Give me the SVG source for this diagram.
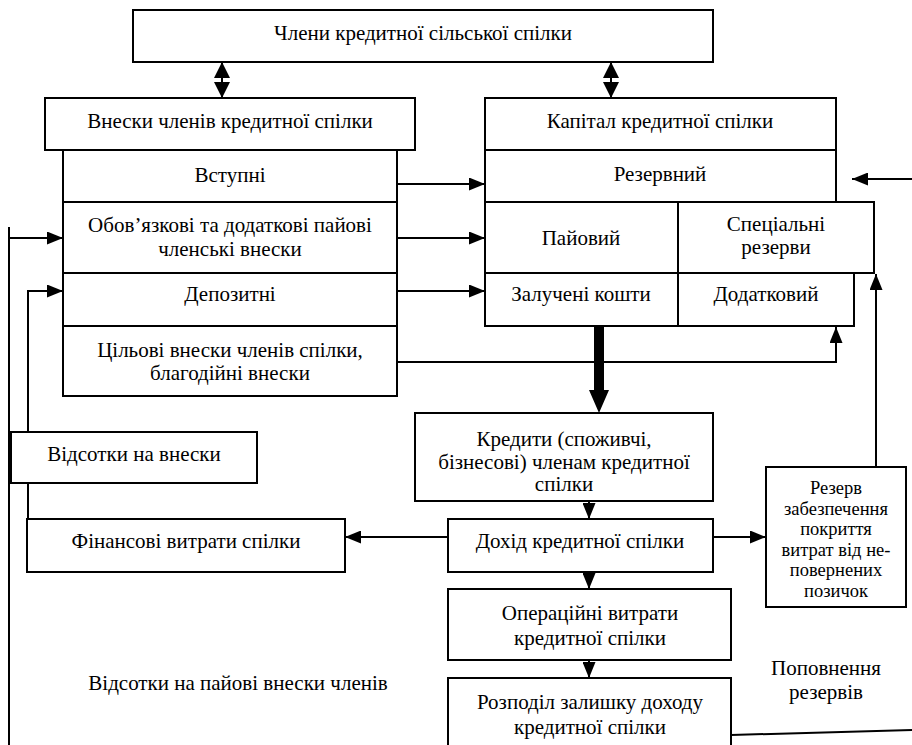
<svg xmlns="http://www.w3.org/2000/svg" width="912" height="745" viewBox="0 0 912 745">
<style>
.b{fill:#fff;stroke:#000;stroke-width:2}
.t{font-family:"Liberation Serif","Times New Roman",serif;font-size:21px;fill:#000;text-anchor:middle}
.s{font-size:18.5px}
.l{fill:none;stroke:#000;stroke-width:2}
.h{fill:#000}
</style>
<defs>
<marker id="a" viewBox="0 0 16 13" refX="16" refY="6.5" markerWidth="16" markerHeight="13" markerUnits="userSpaceOnUse" orient="auto"><path d="M0,0L16,6.5L0,13Z" fill="#000"/></marker>
</defs>
<rect width="912" height="745" fill="#fff"/>

<g id="n-members"><rect class="b" x="133" y="10" width="580" height="52"/><text class="t" x="423" y="40">Члени кредитної сільської спілки</text></g>

<g id="n-contrib"><rect class="b" x="45" y="98" width="370" height="52"/><text class="t" x="230" y="128">Внески членів кредитної спілки</text></g>
<g id="n-entry"><rect class="b" x="63" y="150" width="334" height="52"/><text class="t" x="230" y="182">Вступні</text></g>
<g id="n-share"><rect class="b" x="63" y="202" width="334" height="71"/><text class="t" x="230" y="232">Обов’язкові та додаткові пайові</text><text class="t" x="230" y="256">членські внески</text></g>
<g id="n-deposit"><rect class="b" x="63" y="273" width="334" height="53"/><text class="t" x="230" y="301">Депозитні</text></g>
<g id="n-target"><rect class="b" x="63" y="326" width="334" height="70"/><text class="t" x="230" y="357">Цільові внески членів спілки,</text><text class="t" x="230" y="380">благодійні  внески</text></g>

<g id="n-capital"><rect class="b" x="485" y="98" width="351" height="52"/><text class="t" x="660" y="128">Капітал кредитної спілки</text></g>
<g id="n-reserve"><rect class="b" x="485" y="150" width="351" height="52"/><text class="t" x="660" y="181">Резервний</text></g>
<g id="n-paid"><rect class="b" x="485" y="202" width="193" height="71"/><text class="t" x="581" y="245">Пайовий</text></g>
<g id="n-special"><rect class="b" x="678" y="202" width="196" height="71"/><text class="t" x="776" y="231">Спеціальні</text><text class="t" x="776" y="254">резерви</text></g>
<g id="n-borrowed"><rect class="b" x="485" y="273" width="193" height="53"/><text class="t" x="581" y="301">Залучені кошти</text></g>
<g id="n-additional"><rect class="b" x="678" y="273" width="176" height="53"/><text class="t" x="766" y="301">Додатковий</text></g>

<g id="n-interest"><rect class="b" x="11" y="432" width="246" height="51"/><text class="t" x="134" y="461">Відсотки на внески</text></g>
<g id="n-loans"><rect class="b" x="415" y="413" width="298" height="88"/><text class="t" x="564" y="446">Кредити (споживчі,</text><text class="t" x="564" y="469">бізнесові) членам кредитної</text><text class="t" x="564" y="491">спілки</text></g>
<g id="n-finexp"><rect class="b" x="27" y="519" width="318" height="53"/><text class="t" x="186" y="548">Фінансові витрати спілки</text></g>
<g id="n-income"><rect class="b" x="448" y="519" width="265" height="53"/><text class="t" x="580" y="548">Дохід кредитної спілки</text></g>
<g id="n-provision"><rect class="b" x="766" y="467" width="140" height="140"/>
<text class="t s" x="836" y="494">Резерв</text><text class="t s" x="836" y="515">забезпечення</text><text class="t s" x="836" y="535">покриття</text><text class="t s" x="836" y="556">витрат від не-</text><text class="t s" x="836" y="576">повернених</text><text class="t s" x="836" y="597">позичок</text></g>
<g id="n-opex"><rect class="b" x="448" y="589" width="283" height="71"/><text class="t" x="590" y="620">Операційні витрати</text><text class="t" x="590" y="645">кредитної спілки</text></g>
<g id="n-distrib"><rect class="b" x="448" y="678" width="283" height="80"/><text class="t" x="590" y="709">Розподіл залишку доходу</text><text class="t" x="590" y="734">кредитної спілки</text></g>

<g id="labels">
<text class="t" x="238" y="690">Відсотки на пайові внески членів</text>
<text class="t" x="826" y="675">Поповнення</text>
<text class="t" x="826" y="699">резервів</text>
</g>

<g id="connectors">
<line class="l" x1="222" y1="62" x2="222" y2="97"/>
<path class="h" d="M222,62L230,78L214,78Z M222,98L230,82L214,82Z"/>
<line class="l" x1="611" y1="62" x2="611" y2="97"/>
<path class="h" d="M611,62L619,78L603,78Z M611,98L619,82L603,82Z"/>
<line class="l" x1="397" y1="184" x2="485" y2="184" marker-end="url(#a)"/>
<line class="l" x1="397" y1="238" x2="485" y2="238" marker-end="url(#a)"/>
<line class="l" x1="397" y1="291" x2="485" y2="291" marker-end="url(#a)"/>
<polyline class="l" points="397,362 836,362 836,327" marker-end="url(#a)"/>
<path class="h" d="M594,326H604V390H609L599,413L589,390H594Z"/>
<line class="l" x1="912" y1="179" x2="852" y2="179" marker-end="url(#a)"/>
<line class="l" x1="876" y1="467" x2="876" y2="274" marker-end="url(#a)"/>
<line class="l" x1="589" y1="501" x2="589" y2="519" marker-end="url(#a)"/>
<line class="l" x1="589" y1="572" x2="589" y2="589" marker-end="url(#a)"/>
<line class="l" x1="589" y1="660" x2="589" y2="678" marker-end="url(#a)"/>
<line class="l" x1="448" y1="537" x2="345" y2="537" marker-end="url(#a)"/>
<line class="l" x1="713" y1="537" x2="766" y2="537" marker-end="url(#a)"/>
<line class="l" x1="9" y1="227" x2="9" y2="745"/>
<line class="l" x1="9" y1="238" x2="63" y2="238" marker-end="url(#a)"/>
<polyline class="l" points="28,432 28,291 63,291" marker-end="url(#a)"/>
<line class="l" x1="28" y1="483" x2="28" y2="519"/>
<line class="l" x1="731" y1="735" x2="912" y2="730"/>
</g>
</svg>
